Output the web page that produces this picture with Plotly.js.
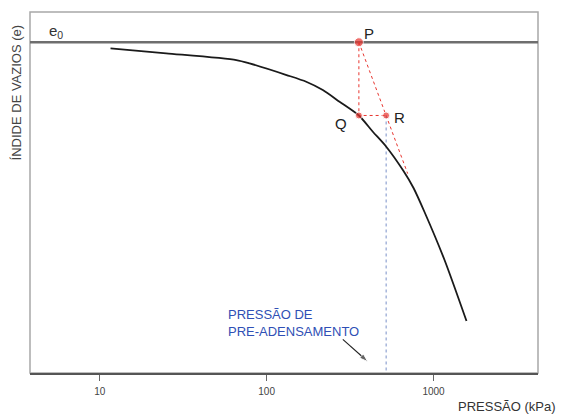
<!DOCTYPE html>
<html>
<head>
<meta charset="utf-8">
<script src="https://cdn.plot.ly/plotly-3.0.1.min.js"></script>
<style>html,body{margin:0;padding:0;background:#fff;}#chart{width:561px;height:418px;}</style>
</head>
<body>
<div id="chart"></div>
<script>
// Compression curve (pressure in kPa, void ratio e)
const pressure  = [11.6, 25.0, 65.8, 79.0, 131.6, 172.7, 217.1, 273.4, 357, 433, 521, 661, 759, 883, 1164, 1576];
const voidRatio = [0.987, 0.9765, 0.9623, 0.9553, 0.9306, 0.9164, 0.8988, 0.8741, 0.845, 0.8106, 0.7789, 0.7274, 0.6915, 0.6407, 0.5391, 0.410];

// Initial void ratio
const e0 = 1.0;

// Construction points P, Q, R
const pointLabels   = ['P', 'Q', 'R'];
const pointPressure = [357, 357, 520];
const pointVoid     = [1.0, 0.845, 0.845];
const pointSizes    = [9, 7, 7];

// End of the P–R line where it meets the curve
const lineEndPressure = 700;
const lineEndVoid = 0.722;

// Pre-consolidation pressure
const preconsolidation = 520;

// Arrow pointing at the pre-consolidation pressure (tail, head)
const arrowPressure = [286, 404];
const arrowVoid = [0.3713, 0.324];

// Axis ticks
const tickValues = [10, 100, 1000];
const tickLabels = ['10', '100', '1000'];

const yMin = 0.3, yMax = 1.064;
const red = '#e8352f';
const blue = '#2f4fb5';
const font = 'Liberation Sans, Arial, sans-serif';

const traces = [
  // P-Q vertical and Q-R horizontal
  {x: [pointPressure[0], pointPressure[1], pointPressure[2]],
   y: [pointVoid[0], pointVoid[1], pointVoid[2]],
   mode: 'lines', line: {color: red, width: 1, dash: 'dot'}, hoverinfo: 'skip'},
  // P through R to the curve
  {x: [pointPressure[0], pointPressure[2], lineEndPressure],
   y: [pointVoid[0], pointVoid[2], lineEndVoid],
   mode: 'lines', line: {color: red, width: 1, dash: 'dot'}, hoverinfo: 'skip'},
  // pre-consolidation vertical
  {x: [preconsolidation, preconsolidation],
   y: [pointVoid[2], yMin],
   mode: 'lines', line: {color: '#7a90c8', width: 1, dash: 'dot'}, hoverinfo: 'skip'},
  // compression curve
  {x: pressure, y: voidRatio, mode: 'lines',
   line: {color: '#1a1a1a', width: 1.8, shape: 'spline', smoothing: 0.7}},
  // points
  {x: pointPressure, y: pointVoid, mode: 'markers',
   marker: {color: red, size: pointSizes}, hoverinfo: 'skip'},
  // arrow
  {x: arrowPressure, y: arrowVoid, mode: 'lines+markers',
   line: {color: '#222', width: 1.1},
   marker: {symbol: ['circle', 'arrow'], size: [0, 9], angleref: 'previous', color: '#222'},
   hoverinfo: 'skip'}
];

const labelShifts = [[10, 9], [-18, -8], [13, -2]];
const annotations = pointLabels.map((t, i) => ({
  x: Math.log10(pointPressure[i]), y: pointVoid[i], xref: 'x', yref: 'y',
  text: t, showarrow: false, xshift: labelShifts[i][0], yshift: labelShifts[i][1],
  font: {family: font, size: 15, color: '#222'}
}));

annotations.push(
  {xref: 'paper', yref: 'y', x: 0.033, y: e0, yshift: 11, text: 'e<sub>0</sub>',
   showarrow: false, font: {family: font, size: 15, color: '#333'}},
  {xref: 'x', yref: 'y', x: Math.log10(57.3), y: 0.406, xanchor: 'left', yanchor: 'middle', align: 'left',
   text: 'PRESSÃO DE<br>PRE-ADENSAMENTO', showarrow: false,
   font: {family: font, size: 13, color: blue}},
  {xref: 'paper', yref: 'paper', x: 1.039, y: -0.094, xanchor: 'right', yanchor: 'middle',
   text: 'PRESSÃO (kPa)', showarrow: false, font: {family: font, size: 13, color: '#333'}},
  {xref: 'paper', yref: 'paper', x: -0.027, y: 0.778, xanchor: 'center', yanchor: 'middle',
   textangle: -90, text: 'ÍNDIDE DE VAZIOS (e)', showarrow: false,
   font: {family: font, size: 13, color: '#444'}}
);

const layout = {
  width: 561, height: 418,
  margin: {l: 30, r: 23, t: 12, b: 45},
  paper_bgcolor: '#fff', plot_bgcolor: '#fff',
  showlegend: false,
  xaxis: {type: 'log', range: [0.582, 3.626], tickvals: tickValues, ticktext: tickLabels,
          ticks: 'outside', ticklen: 6, tickcolor: '#666', tickwidth: 1,
          showgrid: false, zeroline: false, showline: true, linecolor: '#555', linewidth: 1.5,
          tickfont: {family: font, size: 10, color: '#444'}, ticklabelstandoff: 2},
  yaxis: {range: [yMin, yMax], showticklabels: false, ticks: '', showgrid: false,
          zeroline: false, showline: false},
  shapes: [
    {type: 'rect', xref: 'paper', yref: 'paper', x0: 0, x1: 1, y0: 0, y1: 1,
     line: {color: '#a8a8a8', width: 1.5}, layer: 'below'},
    {type: 'line', xref: 'paper', yref: 'y', x0: 0, x1: 1, y0: e0, y1: e0,
     line: {color: '#6e6e6e', width: 2.5}, layer: 'below'}
  ],
  annotations: annotations
};

Plotly.newPlot('chart', traces, layout, {staticPlot: true, displayModeBar: false});
</script>
</body>
</html>
